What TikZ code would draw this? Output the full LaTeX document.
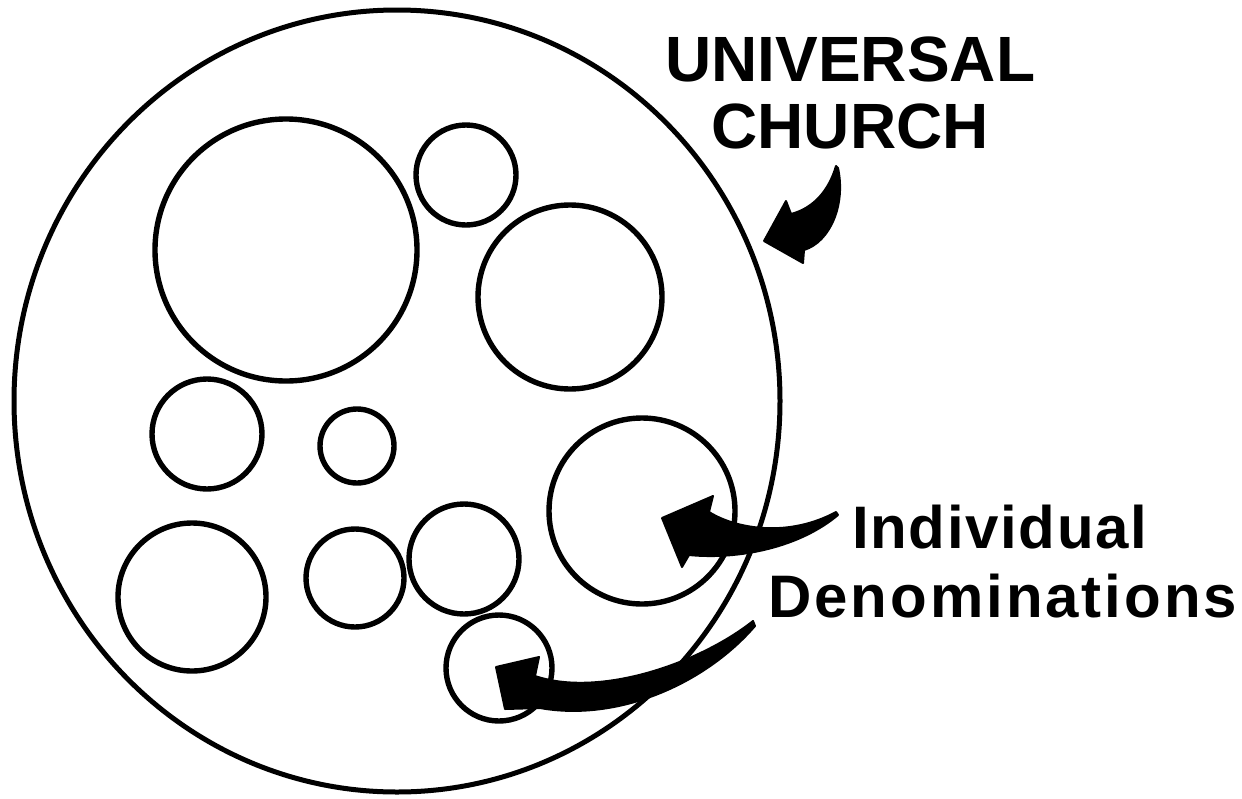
\documentclass[tikz,border=0pt]{standalone}
\usepackage{fontspec}
\usetikzlibrary{shapes.geometric}
\newfontfamily\labfont{Liberation Sans}
\newfontfamily\labfontsp[LetterSpace=2.7]{Liberation Sans}
\newfontfamily\labfontwide[LetterSpace=4.9]{Liberation Sans}
\begin{document}
\begin{tikzpicture}[x=0.5pt,y=-0.5pt,
  ring/.style={circle,draw,line width=2.7pt,inner sep=0pt},
  bigring/.style={ellipse,draw,line width=2.5pt,inner sep=0pt},
  blob/.style={fill=black,draw=black,line width=1pt,line join=round},
  bigtxt/.style={inner sep=0pt,anchor=base west,font=\labfont\bfseries\fontsize{32}{36}\selectfont},
  smtxt/.style={inner sep=0pt,anchor=base west}]
\useasboundingbox (0,0) rectangle (1242,798);
% universal church
\node[bigring,minimum width=383pt,minimum height=391pt] (church) at (397,401) {};
% denominations
\node[ring,minimum size=131pt] (d1) at (286,250) {};
\node[ring,minimum size=50pt]  (d2) at (466,175) {};
\node[ring,minimum size=92pt]  (d3) at (570,297) {};
\node[ring,minimum size=55pt]  (d4) at (207,434) {};
\node[ring,minimum size=37pt]  (d5) at (357,446) {};
\node[ring,minimum size=93pt]  (d6) at (642,511) {};
\node[ring,minimum size=74pt]  (d7) at (192,597) {};
\node[ring,minimum size=49pt]  (d8) at (355,578) {};
\node[ring,minimum size=55pt]  (d9) at (464,559) {};
\node[ring,minimum size=53pt]  (d10) at (499,668) {};
% labels
\node[bigtxt] (uni) at (665,81) {UNIVERSAL};
\node[bigtxt] (chu) at (711,148) {CHURCH};
\node[smtxt,font=\labfontsp\bfseries\fontsize{30}{34}\selectfont] (ind) at (852,548) {Individual};
\node[smtxt,font=\labfontwide\bfseries\fontsize{30}{34}\selectfont] (den) at (768,617) {Denominations};
% arrow to universal church
\path[blob] (836,166) .. controls (829,190) and (814,208) .. (791,214)
  -- (786,201) -- (764,241) -- (803,263) -- (804,250)
  .. controls (830,242) and (846,205) .. (838,168) -- cycle;
% arrow to individual denomination (right)
\path[blob] (836,512) .. controls (790,537) and (738,530) .. (709,512)
  -- (713,496) -- (662,518) -- (682,567) -- (689,555)
  .. controls (740,560) and (800,547) .. (838,515) -- cycle;
% arrow to individual denomination (bottom)
\path[blob] (753,621) .. controls (700,663) and (600,698) .. (535,676)
  -- (539,657) -- (496,667) -- (505,709) -- (540,708)
  .. controls (618,722) and (705,684) .. (755,626) -- cycle;
\end{tikzpicture}
\end{document}
